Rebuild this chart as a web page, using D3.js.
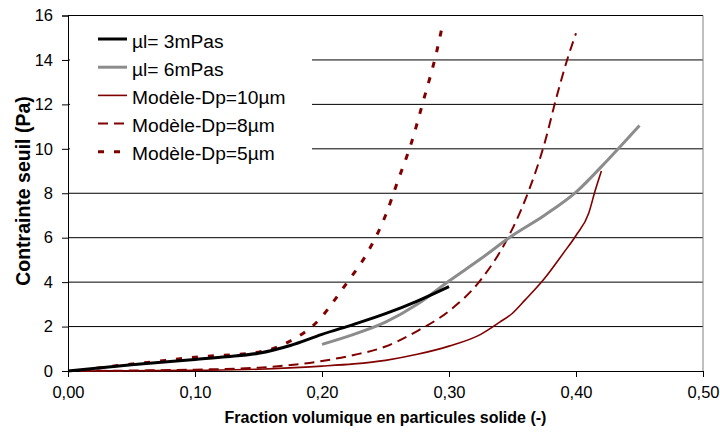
<!DOCTYPE html>
<html><head><meta charset="utf-8">
<script src="https://cdn.jsdelivr.net/npm/d3@7"></script>
<style>
body{margin:0;background:#fff;}
text{font-family:"Liberation Sans",Arial,Helvetica,sans-serif;fill:#000;}
</style></head>
<body><svg id="c" width="720" height="435"></svg>
<script>
const xTicks = [0,0.1,0.2,0.3,0.4,0.5];
const yTicks = [0,2,4,6,8,10,12,14,16];
const xTickLabels = ["0,00","0,10","0,20","0,30","0,40","0,50"];
const seriesNames = ["µl= 3mPas","µl= 6mPas","Modèle-Dp=10µm","Modèle-Dp=8µm","Modèle-Dp=5µm"];
const mu3 = [[0,0],[0.05,0.28],[0.10,0.52],[0.125,0.64],[0.15,0.8],[0.175,1.15],[0.20,1.65],[0.225,2.1],[0.25,2.58],[0.275,3.15],[0.30,3.8]];
const mu6 = [[0.20,1.2],[0.225,1.65],[0.25,2.2],[0.275,3.0],[0.30,4.05],[0.325,5.05],[0.35,6.1],[0.375,7.0],[0.40,8.05],[0.425,9.5],[0.45,11.05]];
const dp10 = [[0.01,0],[0.05,0.01],[0.10,0.03],[0.15,0.08],[0.20,0.22],[0.225,0.32],[0.25,0.48],[0.275,0.75],[0.30,1.12],[0.325,1.65],[0.34,2.2],[0.35,2.6],[0.36,3.2],[0.375,4.15],[0.39,5.3],[0.40,6.1],[0.41,7.1],[0.415,8.1],[0.42,9.0]];
const dp8 = [[0.01,0],[0.05,0.02],[0.10,0.06],[0.15,0.15],[0.20,0.45],[0.225,0.72],[0.25,1.1],[0.275,1.8],[0.30,2.7],[0.325,4.1],[0.345,5.85],[0.36,7.7],[0.375,10.2],[0.385,12.4],[0.393,14.0],[0.40,15.2]];
const dp5 = [[0.01,0.02],[0.03,0.18],[0.065,0.4],[0.10,0.62],[0.15,0.85],[0.175,1.35],[0.20,2.45],[0.21,3.2],[0.22,4.0],[0.235,5.25],[0.25,7.0],[0.26,8.6],[0.27,10.2],[0.28,12.2],[0.29,14.3],[0.295,15.6]];

const series = [
  {name:seriesNames[0], data:mu3, color:"#000000", w:3, dash:null},
  {name:seriesNames[1], data:mu6, color:"#8c8c8c", w:3, dash:null},
  {name:seriesNames[2], data:dp10, color:"#800000", w:1.6, dash:null},
  {name:seriesNames[3], data:dp8, color:"#800000", w:2, dash:"10,6"},
  {name:seriesNames[4], data:dp5, color:"#800000", w:3, dash:"6,10"}
];

const svg = d3.select("#c");
const x = d3.scaleLinear().domain([0,0.5]).range([68,703]);
const y = d3.scaleLinear().domain([0,16]).range([371,15.5]);

svg.append("g").selectAll("line").data(yTicks.filter(d=>d>0&&d<16)).join("line")
  .attr("x1",x(0)).attr("x2",x(0.5)).attr("y1",d=>y(d)).attr("y2",d=>y(d))
  .attr("stroke","#000").attr("stroke-width",1);
svg.append("line").attr("x1",x(0)).attr("x2",x(0.5)).attr("y1",y(16)).attr("y2",y(16)).attr("stroke","#000");
svg.append("line").attr("x1",x(0.5)).attr("x2",x(0.5)).attr("y1",y(16)).attr("y2",y(0)).attr("stroke","#808080");

svg.append("rect").attr("x",70).attr("y",22).attr("width",242).attr("height",146).attr("fill","#fff");

const xAxis = d3.axisBottom(x).tickValues(xTicks).tickFormat((d,i)=>xTickLabels[i]).tickSize(6).tickPadding(9);
const gx = svg.append("g").attr("transform",`translate(0,${y(0)})`).call(xAxis);
gx.select(".domain").attr("stroke","#000");
gx.selectAll(".tick line").attr("stroke","#000");
gx.selectAll("text").style("font-size","16.5px").style("font-family","'Liberation Sans',Arial,sans-serif");

const yAxis = d3.axisLeft(y).tickValues(yTicks).tickSize(6).tickPadding(9);
const gy = svg.append("g").attr("transform",`translate(${x(0)},0)`).call(yAxis);
gy.select(".domain").attr("stroke","#000");
gy.selectAll(".tick line").attr("stroke","#000");
gy.selectAll("text").style("font-size","16.5px").style("font-family","'Liberation Sans',Arial,sans-serif");

const line = d3.line().x(d=>x(d[0])).y(d=>y(d[1])).curve(d3.curveMonotoneX);
const order = [2,3,4,1,0];
order.forEach(i=>{
  const s = series[i];
  svg.append("path").datum(s.data).attr("d",line).attr("fill","none")
    .attr("stroke",s.color).attr("stroke-width",s.w)
    .attr("stroke-dasharray",s.dash).attr("stroke-linejoin","round");
});

const lg = svg.append("g");
series.forEach((s,i)=>{
  const cy = 39 + i*28.2;
  lg.append("line").attr("x1",98).attr("x2",127).attr("y1",cy).attr("y2",cy)
    .attr("stroke",s.color).attr("stroke-width",s.w).attr("stroke-dasharray",s.dash);
  lg.append("text").attr("x",132).attr("y",cy+8.5).style("font-size","19.2px").text(s.name);
});

svg.append("text").attr("x",(x(0)+x(0.5))/2).attr("y",423).attr("text-anchor","middle")
  .style("font-size","16px").style("font-weight","bold").text("Fraction volumique en particules solide (-)");
svg.append("text").attr("transform","translate(30,191) rotate(-90)").attr("text-anchor","middle")
  .style("font-size","19.5px").style("font-weight","bold").text("Contrainte seuil (Pa)");
</script></body></html>
